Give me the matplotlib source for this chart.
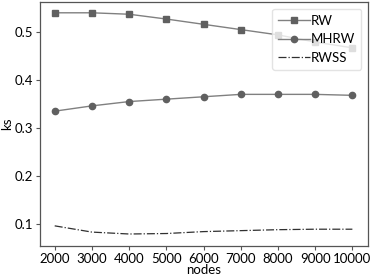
import matplotlib
matplotlib.use("Agg")
import matplotlib.pyplot as plt

nodes = [2000, 3000, 4000, 5000, 6000, 7000, 8000, 9000, 10000]
rw = [0.540, 0.540, 0.537, 0.527, 0.516, 0.505, 0.494, 0.479, 0.467]
mhrw = [0.335, 0.346, 0.355, 0.360, 0.365, 0.370, 0.370, 0.370, 0.368]
rwss = [0.096, 0.083, 0.079, 0.080, 0.084, 0.086, 0.088, 0.089, 0.089]
xticks = [2000, 3000, 4000, 5000, 6000, 7000, 8000, 9000, 10000]
yticks = [0.1, 0.2, 0.3, 0.4, 0.5]

plt.rcParams['font.family'] = ['Lato', 'DejaVu Sans']
fs = 9.5

fig = plt.figure(figsize=(3.70, 2.77), dpi=100)
ax = fig.add_axes([40/370, 1 - 246/277, 328/370, 244/277])

ax.plot(nodes, rw, color='#808080', lw=1.0, marker='s', markersize=4.3,
        markerfacecolor='#606060', markeredgecolor='#606060', label='RW')
ax.plot(nodes, mhrw, color='#808080', lw=1.0, marker='o', markersize=4.5,
        markerfacecolor='#606060', markeredgecolor='#606060', label='MHRW')
ax.plot(nodes, rwss, color='#303030', lw=0.9, linestyle='-.', label='RWSS')

ax.set_xlim(1605, 10420)
ax.set_ylim(0.054, 0.5625)
ax.set_xticks(xticks)
ax.set_xticklabels([str(x) for x in xticks])
ax.set_yticks(yticks)
ax.set_yticklabels([f"{y:.1f}" for y in yticks])
ax.tick_params(labelsize=fs, length=3, color='#555555', pad=2)
for s in ax.spines.values():
    s.set_color('#555555')
    s.set_linewidth(0.9)

ax.set_xlabel('nodes', fontsize=fs, labelpad=-1)
ax.set_ylabel('ks', fontsize=fs, labelpad=1)

leg = ax.legend(loc='upper right', fontsize=fs, frameon=True, framealpha=0.8,
                handlelength=2.4, handletextpad=0.1, borderpad=0.45,
                labelspacing=0.5, borderaxespad=0.5)
leg.get_frame().set_edgecolor('#dddddd')

fig.savefig('out.png', dpi=100)
